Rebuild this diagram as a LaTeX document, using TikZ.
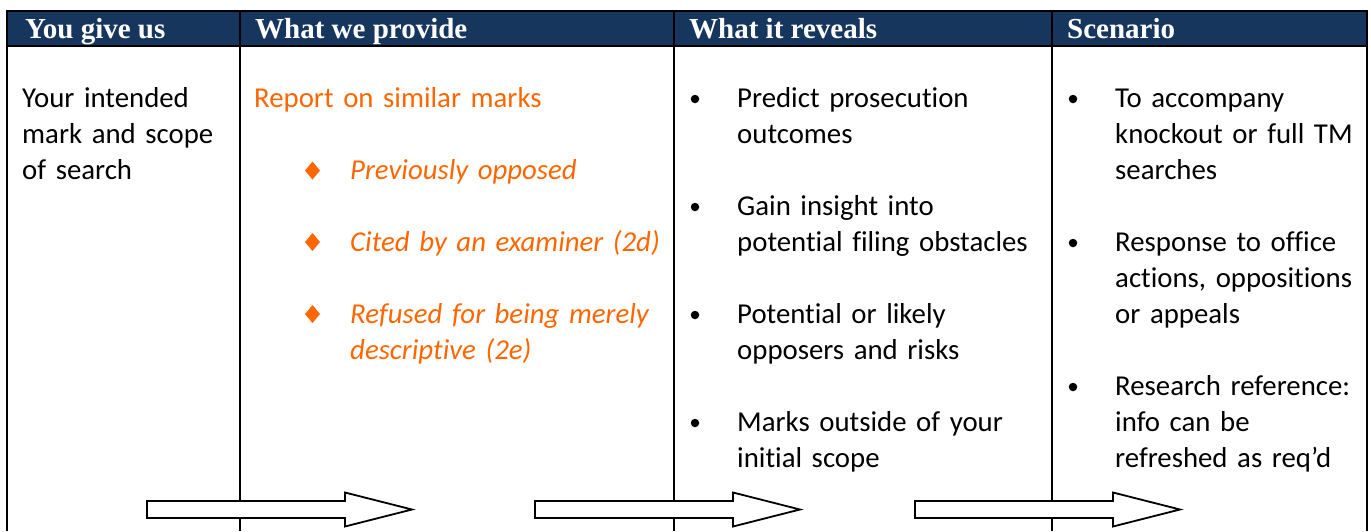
\documentclass[tikz,border=0pt]{standalone}
\usepackage{fontspec}
\setmainfont{Carlito}[Ligatures={NoCommon}]
\newfontfamily\hdrfont{Liberation Serif}
\definecolor{navy}{HTML}{17365D}
\definecolor{orng}{HTML}{FF6600}
\begin{document}
\begin{tikzpicture}[x=1pt,y=-1pt,
  rule/.style={line width=2.2pt,black},
  hdr/.style={anchor=base west,inner sep=0pt,text=white,font=\hdrfont\bfseries\fontsize{29}{34}\selectfont},
  body/.style={anchor=base west,inner sep=0pt,align=left,text width=330pt,font=\fontsize{28.8}{36}\selectfont},
  orangebody/.style={body,text=orng},
  itembody/.style={body,text=orng,font=\itshape\fontsize{28.8}{36}\selectfont},
  dot/.style={circle,fill=black,inner sep=0pt,minimum size=8.5pt},
  arrowline/.style={draw=black,fill=white,line width=1.8pt,line join=miter},
  barrow/.pic={\path[arrowline] (0,-8.5) -- (198,-8.5) -- (198,-17) -- (265,0) -- (198,17) -- (198,8.5) -- (0,8.5) -- cycle;}
]
\useasboundingbox (0,0) rectangle (1371,531);
% header band
\fill[navy] (7,11) rectangle (1367,46);
\draw[rule] (5.9,11) -- (1368.1,11);
\draw[rule] (7,46) -- (1367,46);
\foreach \xx in {7,240,674,1052,1367} {\draw[rule] (\xx,11) -- (\xx,531);}
% header texts
\node[hdr] (h1) at (25,38) {You give us};
\node[hdr] (h2) at (255,38) {What we provide};
\node[hdr] (h3) at (689,38) {What it reveals};
\node[hdr] (h4) at (1067,38) {Scenario};
% column 1
\node[body,text width=210pt] (c1) at (22,107) {Your intended\\mark and scope\\of search};
% column 2
\node[orangebody,text width=410pt] (c2) at (254,107) {Report on similar marks};
\fill[orng] (312.5,161.5) -- (320,170.5) -- (312.5,179.5) -- (305,170.5) -- cycle;
\fill[orng] (312.5,233) -- (320,242) -- (312.5,251) -- (305,242) -- cycle;
\fill[orng] (312.5,305) -- (320,314) -- (312.5,323) -- (305,314) -- cycle;
\node[itembody] (p1) at (350,179) {Previously opposed};
\node[itembody] (p2) at (350,251) {Cited by an examiner (2d)};
\node[itembody] (p3) at (350,323) {Refused for being merely\\descriptive (2e)};
% column 3
\node[dot] (b31) at (695,99) {};
\node[dot] (b32) at (695,207) {};
\node[dot] (b33) at (695,315) {};
\node[dot] (b34) at (695,423) {};
\node[body] (t31) at (737,107) {Predict prosecution\\outcomes};
\node[body] (t32) at (737,215) {Gain insight into\\potential filing obstacles};
\node[body] (t33) at (737,323) {Potential or likely\\opposers and risks};
\node[body] (t34) at (737,431) {Marks outside of your\\initial scope};
% column 4
\node[dot] (b41) at (1073,99) {};
\node[dot] (b42) at (1073,243) {};
\node[dot] (b43) at (1073,387) {};
\node[body] (t41) at (1115,107) {To accompany\\knockout or full TM\\searches};
\node[body] (t42) at (1115,251) {Response to office\\actions, oppositions\\or appeals};
\node[body] (t43) at (1115,395) {Research reference:\\info can be\\refreshed as req’d};
% block arrows
\pic at (147,509.5) {barrow};
\pic at (535,509.5) {barrow};
\pic at (915,509.5) {barrow};
\end{tikzpicture}
\end{document}
